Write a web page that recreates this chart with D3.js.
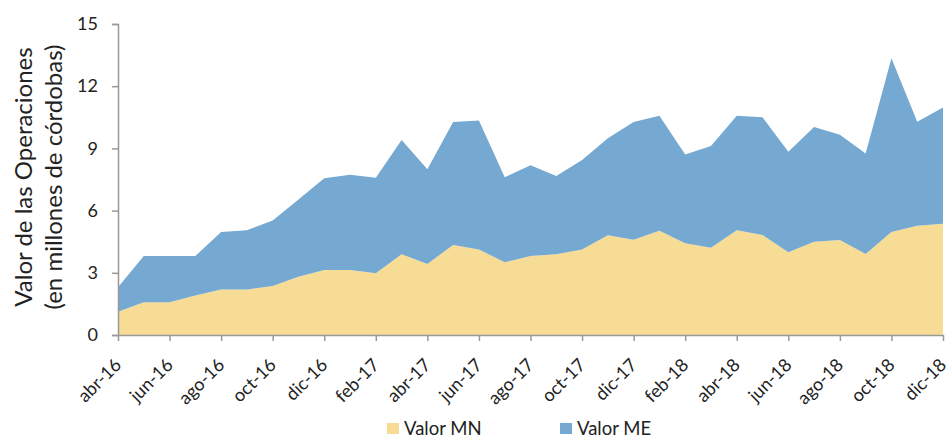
<!DOCTYPE html>
<html><head><meta charset="utf-8">
<script src="https://cdn.jsdelivr.net/npm/d3@7"></script>
<style>body{margin:0;background:#fff}svg{display:block}text{font-family:Lato,"Open Sans",sans-serif;fill:#222}</style>
</head><body><svg id="c" width="950" height="439"></svg>
<script>
const months = ["abr-16","may-16","jun-16","jul-16","ago-16","sep-16","oct-16","nov-16","dic-16","ene-17","feb-17","mar-17","abr-17","may-17","jun-17","jul-17","ago-17","sep-17","oct-17","nov-17","dic-17","ene-18","feb-18","mar-18","abr-18","may-18","jun-18","jul-18","ago-18","sep-18","oct-18","nov-18","dic-18"];
const valorMN = [1.12,1.58,1.58,1.90,2.20,2.20,2.36,2.81,3.14,3.14,2.98,3.89,3.43,4.34,4.12,3.51,3.81,3.89,4.12,4.81,4.60,5.03,4.43,4.21,5.05,4.82,3.99,4.50,4.58,3.91,4.97,5.27,5.37];
const valorTotal = [2.30,3.81,3.81,3.81,4.97,5.05,5.52,6.54,7.56,7.73,7.59,9.40,7.99,10.27,10.35,7.61,8.19,7.67,8.44,9.49,10.27,10.58,8.70,9.12,10.58,10.50,8.84,10.03,9.66,8.76,13.35,10.29,10.97];
const valorME = valorTotal.map((t,i)=>+(t-valorMN[i]).toFixed(2));
const yTicks = [0,3,6,9,12,15];
const seriesNames = ["Valor MN","Valor ME"];
const colors = ["#F7DC95","#76A9D1"];

const svg = d3.select("#c");
const m = {l:118,r:943,t:24,b:335};
const x = d3.scalePoint().domain(months).range([m.l,m.r]);
const y = d3.scaleLinear().domain([0,15]).range([m.b,m.t]);

const data = months.map((mo,i)=>({mo, mn:valorMN[i], me:valorME[i]}));
const stack = d3.stack().keys(["mn","me"])(data);
const area = d3.area().x(d=>x(d.data.mo)).y0(d=>y(d[0])).y1(d=>y(d[1]));
svg.selectAll("path.a").data(stack).join("path").attr("class","a")
  .attr("d",area).attr("fill",(d,i)=>colors[i]);

// y axis
const ya = svg.append("g").attr("transform",`translate(${m.l},0)`)
  .call(d3.axisLeft(y).tickValues(yTicks).tickSize(6).tickPadding(14));
ya.select(".domain").attr("stroke","#999").attr("stroke-width",1.5);
ya.selectAll(".tick line").attr("stroke","#999").attr("stroke-width",1.5);
ya.selectAll(".tick text").attr("font-size",18).attr("font-family","Lato,sans-serif").attr("fill","#222");

// x axis
const xa = svg.append("g").attr("transform",`translate(0,${m.b})`)
  .call(d3.axisBottom(x).tickValues(months.filter((d,i)=>i%2===0)).tickSize(6).tickSizeOuter(0));
xa.select(".domain").attr("stroke","#999").attr("stroke-width",1.5);
xa.selectAll(".tick line").attr("stroke","#999").attr("stroke-width",1.5);
xa.selectAll(".tick text").attr("font-size",18).attr("font-family","Lato,sans-serif").attr("fill","#222")
  .attr("text-anchor","end").attr("dy",0).attr("y",0)
  .attr("transform","translate(4,31) rotate(-45)");

// y title
const yt = svg.append("text").attr("transform","translate(0,177) rotate(-90)")
  .attr("text-anchor","middle").attr("font-size",24);
yt.append("tspan").attr("x",0).attr("y",32).text("Valor de las Operaciones");
yt.append("tspan").attr("x",0).attr("y",62).text("(en millones de córdobas)");

// legend
const lg = svg.append("g");
const lx = [387,560];
seriesNames.forEach((n,i)=>{
  lg.append("rect").attr("x",lx[i]).attr("y",423).attr("width",12).attr("height",11).attr("fill",colors[i]);
  lg.append("text").attr("x",lx[i]+17).attr("y",435).attr("font-size",18.5).text(n);
});
</script></body></html>
